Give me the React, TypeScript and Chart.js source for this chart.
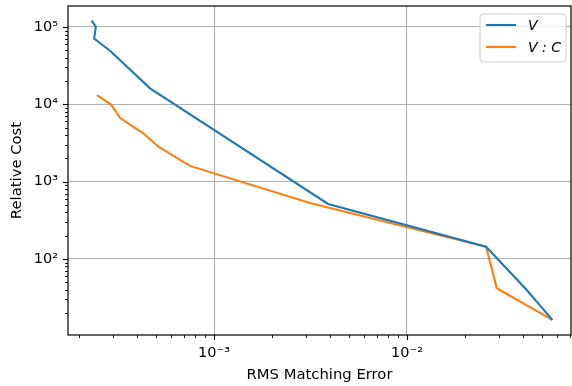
import React, { useEffect, useRef } from 'react';
import { Chart, registerables } from 'chart.js';

Chart.register(...registerables);

// ---- data ----
const vErr = [2.32e-4, 2.44e-4, 2.39e-4, 2.89e-4, 4.66e-4, 3.9e-3, 2.57e-2, 4.13e-2, 5.67e-2];
const vCost = [1.21e5, 1.01e5, 7.1e4, 4.94e4, 1.61e4, 515, 144, 40.9, 16.3];

const vcErr = [2.47e-4, 2.92e-4, 3.26e-4, 4.3e-4, 5.15e-4, 7.5e-4, 3.14e-3, 2.57e-2, 2.92e-2, 5.67e-2];
const vcCost = [1.32e4, 1.0e4, 6.65e3, 4.22e3, 2.83e3, 1.6e3, 530, 144, 41.8, 16.3];

const seriesLabels = ['V', 'V : C'];
const seriesColors = ['#1f77b4', '#ff7f0e'];

const xMajorTicks = [1e-3, 1e-2];
const xTickLabels = ['10⁻³', '10⁻²'];
const yMajorTicks = [1e2, 1e3, 1e4, 1e5];
const yTickLabels = ['10²', '10³', '10⁴', '10⁵'];

const xRange = [1.75e-4, 7.08e-2];
const yRange = [10.4, 1.87e5];

const FONT = "'DejaVu Sans', sans-serif";

function logTicks(min: number, max: number) {
  const out: { value: number; major: boolean }[] = [];
  const e0 = Math.floor(Math.log10(min));
  const e1 = Math.ceil(Math.log10(max));
  for (let e = e0; e <= e1; e++) {
    for (let m = 1; m <= 9; m++) {
      const v = m === 1 ? Math.pow(10, e) : m * Math.pow(10, e);
      if (v >= min && v <= max) out.push({ value: v, major: m === 1 });
    }
  }
  return out;
}

function labelFor(v: number, majors: number[], labels: string[]) {
  for (let i = 0; i < majors.length; i++) {
    if (Math.abs(v - majors[i]) / majors[i] < 1e-9) return labels[i];
  }
  return '';
}

const decor = {
  id: 'decor',
  afterDraw(chart: any) {
    const { ctx, chartArea } = chart;
    const { left, right, top, bottom } = chartArea;
    ctx.save();
    // tick marks
    const xs = chart.scales.x;
    const ys = chart.scales.y;
    ctx.strokeStyle = '#000';
    xs.ticks.forEach((t: any) => {
      const px = Math.round(xs.getPixelForValue(t.value)) + 0.5;
      ctx.lineWidth = t.major ? 1.1 : 0.9;
      const len = t.major ? 5 : 3;
      ctx.beginPath();
      ctx.moveTo(px, bottom);
      ctx.lineTo(px, bottom + len);
      ctx.stroke();
    });
    ys.ticks.forEach((t: any) => {
      const py = Math.round(ys.getPixelForValue(t.value)) + 0.5;
      ctx.lineWidth = t.major ? 1.1 : 0.9;
      const len = t.major ? 5 : 3;
      ctx.beginPath();
      ctx.moveTo(left, py);
      ctx.lineTo(left - len, py);
      ctx.stroke();
    });
    // spines
    ctx.lineWidth = 1.2;
    ctx.strokeStyle = '#000';
    ctx.strokeRect(left, top, right - left, bottom - top);

    // legend
    const bx = 480, by = 14, bw = 86, bh = 48, r = 3;
    ctx.fillStyle = 'rgba(255,255,255,0.8)';
    ctx.strokeStyle = '#d0d0d0';
    ctx.lineWidth = 1;
    ctx.beginPath();
    ctx.moveTo(bx + r, by);
    ctx.lineTo(bx + bw - r, by);
    ctx.arcTo(bx + bw, by, bx + bw, by + r, r);
    ctx.lineTo(bx + bw, by + bh - r);
    ctx.arcTo(bx + bw, by + bh, bx + bw - r, by + bh, r);
    ctx.lineTo(bx + r, by + bh);
    ctx.arcTo(bx, by + bh, bx, by + bh - r, r);
    ctx.lineTo(bx, by + r);
    ctx.arcTo(bx, by, bx + r, by, r);
    ctx.closePath();
    ctx.fill();
    ctx.stroke();
    chart.data.datasets.forEach((ds: any, i: number) => {
      const ly = by + 11 + i * 22;
      ctx.strokeStyle = ds.borderColor;
      ctx.lineWidth = 2.1;
      ctx.beginPath();
      ctx.moveTo(bx + 6, ly);
      ctx.lineTo(bx + 36, ly);
      ctx.stroke();
      ctx.fillStyle = '#000';
      ctx.font = `italic 14px ${FONT}`;
      ctx.textAlign = 'left';
      ctx.textBaseline = 'middle';
      ctx.fillText(ds.label, bx + 48, ly + 1);
    });
    ctx.restore();
  },
};

export default function App() {
  const ref = useRef<HTMLCanvasElement | null>(null);
  useEffect(() => {
    const canvas = ref.current;
    if (!canvas) return;
    const chart = new Chart(canvas, {
      type: 'scatter',
      data: {
        datasets: [
          {
            label: seriesLabels[0],
            data: vErr.map((x, i) => ({ x, y: vCost[i] })),
            borderColor: seriesColors[0],
            backgroundColor: seriesColors[0],
            showLine: true,
            borderWidth: 2.1,
            pointRadius: 0,
            pointHoverRadius: 0,
            tension: 0,
          },
          {
            label: seriesLabels[1],
            data: vcErr.map((x, i) => ({ x, y: vcCost[i] })),
            borderColor: seriesColors[1],
            backgroundColor: seriesColors[1],
            showLine: true,
            borderWidth: 2.1,
            pointRadius: 0,
            pointHoverRadius: 0,
            tension: 0,
          },
        ],
      },
      options: {
        animation: false,
        responsive: false,
        maintainAspectRatio: false,
        devicePixelRatio: 1,
        layout: { padding: { left: 0, top: 6, right: 1, bottom: 0 } },
        plugins: {
          legend: { display: false },
          tooltip: { enabled: false },
          title: { display: false },
        },
        scales: {
          x: {
            type: 'logarithmic',
            position: 'bottom',
            min: xRange[0],
            max: xRange[1],
            afterBuildTicks: (s: any) => {
              s.ticks = logTicks(xRange[0], xRange[1]);
            },
            afterFit: (s: any) => {
              s.height = 51;
              s.paddingLeft = 0;
              s.paddingRight = 0;
              s.paddingTop = 0;
              s.paddingBottom = 0;
            },
            ticks: {
              autoSkip: false,
              maxRotation: 0,
              minRotation: 0,
              padding: 10,
              color: '#000',
              font: { family: FONT, size: 14.5 },
              callback: (v: any) => labelFor(Number(v), xMajorTicks, xTickLabels),
            },
            grid: {
              drawTicks: false,
              lineWidth: 1.1,
              color: (c: any) => (c.tick && c.tick.major ? '#b0b0b0' : 'rgba(0,0,0,0)'),
            },
            border: { display: false },
            title: {
              display: true,
              text: 'RMS Matching Error',
              color: '#000',
              font: { family: FONT, size: 14.8 },
              padding: { top: 0, bottom: 2 },
            },
          },
          y: {
            type: 'logarithmic',
            position: 'left',
            min: yRange[0],
            max: yRange[1],
            afterBuildTicks: (s: any) => {
              s.ticks = logTicks(yRange[0], yRange[1]);
            },
            afterFit: (s: any) => {
              s.width = 68;
              s.paddingLeft = 0;
              s.paddingRight = 0;
              s.paddingTop = 0;
              s.paddingBottom = 0;
            },
            ticks: {
              autoSkip: false,
              padding: 10,
              color: '#000',
              font: { family: FONT, size: 14.5 },
              callback: (v: any) => labelFor(Number(v), yMajorTicks, yTickLabels),
            },
            grid: {
              drawTicks: false,
              lineWidth: 1.1,
              color: (c: any) => (c.tick && c.tick.major ? '#b0b0b0' : 'rgba(0,0,0,0)'),
            },
            border: { display: false },
            title: {
              display: true,
              text: 'Relative Cost',
              color: '#000',
              font: { family: FONT, size: 14.8 },
              padding: { top: 8, bottom: 0 },
            },
          },
        },
      },
      plugins: [decor],
    });
    return () => chart.destroy();
  }, []);
  return (
    <div style={{ position: 'absolute', left: 0, top: 0, width: 572, height: 386, background: '#fff' }}>
      <canvas ref={ref} width={572} height={386} style={{ display: 'block', width: 572, height: 386 }} />
    </div>
  );
}
